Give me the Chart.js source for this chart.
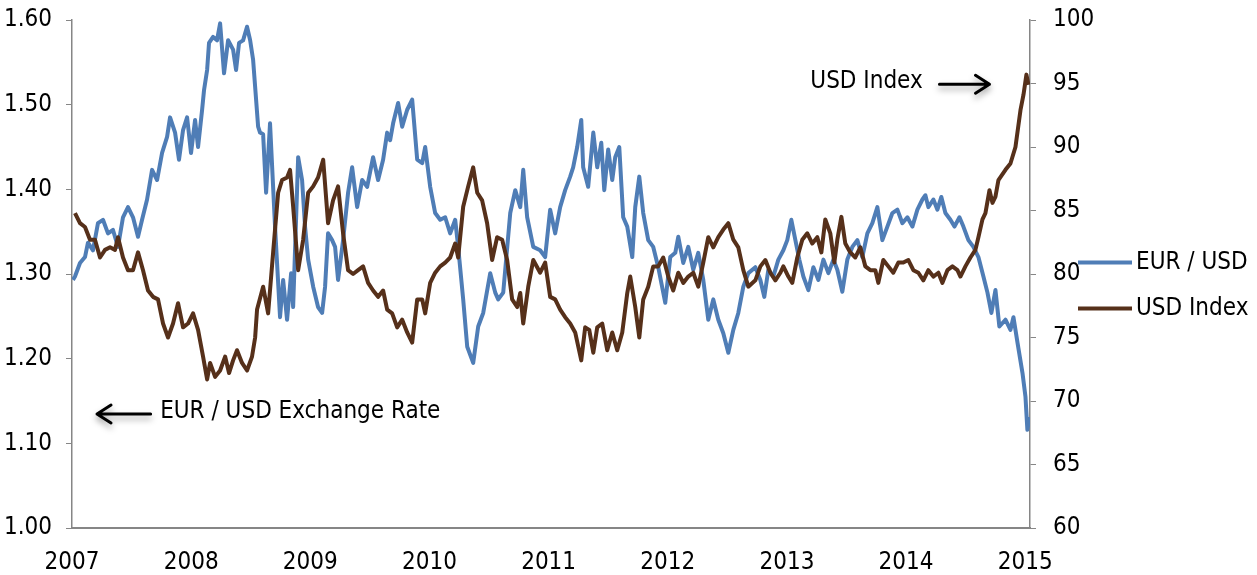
<!DOCTYPE html>
<html>
<head>
<meta charset="utf-8">
<script src="https://cdn.jsdelivr.net/npm/chart.js@4"></script>
<style>
  html, body { margin: 0; padding: 0; background: #fff; }
  #wrap { width: 1257px; height: 575px; }
</style>
</head>
<body>
<div id="wrap"><canvas id="fxChart" width="1257" height="575"></canvas></div>
<script>
// EUR / USD exchange rate (left axis), dates as decimal years
const eurDates = [
  2007.008, 2007.025, 2007.067, 2007.109, 2007.134, 2007.176, 2007.218, 2007.260, 2007.302, 2007.344,
  2007.386, 2007.428, 2007.470, 2007.512, 2007.554, 2007.588, 2007.630, 2007.672, 2007.714, 2007.756,
  2007.798, 2007.823, 2007.865, 2007.898, 2007.932, 2007.966, 2007.999, 2008.033, 2008.058, 2008.092,
  2008.108, 2008.134, 2008.150, 2008.184, 2008.217, 2008.243, 2008.276, 2008.310, 2008.352, 2008.377,
  2008.402, 2008.436, 2008.469, 2008.495, 2008.520, 2008.562, 2008.578, 2008.604, 2008.629, 2008.662,
  2008.704, 2008.746, 2008.772, 2008.805, 2008.839, 2008.856, 2008.898, 2008.931, 2008.956, 2008.982,
  2009.024, 2009.065, 2009.099, 2009.124, 2009.149, 2009.183, 2009.208, 2009.233, 2009.275, 2009.317,
  2009.351, 2009.393, 2009.435, 2009.477, 2009.527, 2009.569, 2009.611, 2009.645, 2009.670, 2009.695,
  2009.737, 2009.771, 2009.813, 2009.855, 2009.897, 2009.939, 2009.964, 2010.006, 2010.048, 2010.090,
  2010.132, 2010.174, 2010.216, 2010.241, 2010.283, 2010.317, 2010.367, 2010.409, 2010.451, 2010.510,
  2010.552, 2010.577, 2010.619, 2010.678, 2010.720, 2010.762, 2010.787, 2010.820, 2010.871, 2010.929,
  2010.971, 2011.013, 2011.055, 2011.097, 2011.139, 2011.181, 2011.206, 2011.240, 2011.274, 2011.290,
  2011.332, 2011.375, 2011.408, 2011.442, 2011.467, 2011.500, 2011.534, 2011.559, 2011.593, 2011.626,
  2011.660, 2011.702, 2011.727, 2011.761, 2011.794, 2011.836, 2011.878, 2011.920, 2011.979, 2012.021,
  2012.063, 2012.088, 2012.130, 2012.172, 2012.214, 2012.256, 2012.298, 2012.340, 2012.382, 2012.424,
  2012.466, 2012.508, 2012.550, 2012.592, 2012.634, 2012.676, 2012.735, 2012.777, 2012.810, 2012.844,
  2012.886, 2012.928, 2012.970, 2013.003, 2013.037, 2013.071, 2013.104, 2013.138, 2013.180, 2013.222,
  2013.264, 2013.306, 2013.348, 2013.390, 2013.423, 2013.465, 2013.507, 2013.549, 2013.591, 2013.633,
  2013.675, 2013.717, 2013.759, 2013.801, 2013.843, 2013.885, 2013.927, 2013.969, 2014.011, 2014.053,
  2014.095, 2014.137, 2014.162, 2014.187, 2014.229, 2014.263, 2014.296, 2014.330, 2014.372, 2014.406,
  2014.448, 2014.481, 2014.523, 2014.565, 2014.607, 2014.649, 2014.683, 2014.716, 2014.750, 2014.783,
  2014.834, 2014.876, 2014.901, 2014.935, 2014.977, 2015.002, 2015.018, 2015.035
];
const eurValues = [
  1.293, 1.297, 1.313, 1.320, 1.337, 1.328, 1.360, 1.364, 1.348, 1.352,
  1.332, 1.367, 1.379, 1.367, 1.344, 1.364, 1.388, 1.423, 1.411, 1.443,
  1.462, 1.485, 1.467, 1.435, 1.470, 1.485, 1.443, 1.482, 1.450, 1.494,
  1.517, 1.541, 1.573, 1.580, 1.576, 1.596, 1.537, 1.576, 1.565, 1.541,
  1.573, 1.576, 1.592, 1.576, 1.553, 1.474, 1.467, 1.465, 1.396, 1.478,
  1.356, 1.249, 1.293, 1.246, 1.301, 1.261, 1.438, 1.411, 1.356, 1.317,
  1.285, 1.261, 1.254, 1.285, 1.348, 1.340, 1.332, 1.293, 1.340, 1.396,
  1.426, 1.379, 1.411, 1.403, 1.438, 1.411, 1.435, 1.467, 1.458, 1.478,
  1.502, 1.474, 1.494, 1.506, 1.435, 1.431, 1.450, 1.403, 1.372, 1.364,
  1.367, 1.348, 1.364, 1.332, 1.270, 1.214, 1.195, 1.238, 1.254, 1.301,
  1.278, 1.270, 1.278, 1.372, 1.399, 1.379, 1.423, 1.367, 1.332, 1.328,
  1.320, 1.376, 1.348, 1.379, 1.399, 1.415, 1.426, 1.450, 1.482, 1.426,
  1.403, 1.467, 1.426, 1.455, 1.399, 1.447, 1.411, 1.438, 1.450, 1.367,
  1.356, 1.320, 1.379, 1.415, 1.372, 1.340, 1.332, 1.308, 1.266, 1.320,
  1.325, 1.344, 1.313, 1.332, 1.305, 1.325, 1.293, 1.246, 1.270, 1.246,
  1.230, 1.207, 1.234, 1.254, 1.285, 1.301, 1.308, 1.293, 1.273, 1.305,
  1.297, 1.317, 1.328, 1.340, 1.364, 1.340, 1.317, 1.297, 1.281, 1.308,
  1.293, 1.317, 1.301, 1.317, 1.305, 1.279, 1.317, 1.332, 1.340, 1.320,
  1.348, 1.360, 1.379, 1.340, 1.356, 1.372, 1.376, 1.360, 1.367, 1.356,
  1.376, 1.388, 1.393, 1.379, 1.388, 1.376, 1.391, 1.372, 1.364, 1.356,
  1.367, 1.356, 1.340, 1.332, 1.320, 1.297, 1.278, 1.254, 1.281, 1.238,
  1.246, 1.234, 1.249, 1.219, 1.183, 1.155, 1.116, 1.131
];

// USD Index (right axis)
const usdDates = [
  2007.025, 2007.067, 2007.109, 2007.151, 2007.193, 2007.235, 2007.277, 2007.319, 2007.361, 2007.386,
  2007.428, 2007.470, 2007.512, 2007.554, 2007.596, 2007.638, 2007.680, 2007.722, 2007.764, 2007.806,
  2007.848, 2007.890, 2007.932, 2007.974, 2008.016, 2008.058, 2008.100, 2008.134, 2008.159, 2008.201,
  2008.243, 2008.285, 2008.318, 2008.352, 2008.385, 2008.427, 2008.469, 2008.511, 2008.537, 2008.553,
  2008.604, 2008.646, 2008.688, 2008.730, 2008.763, 2008.805, 2008.830, 2008.856, 2008.898, 2008.940,
  2008.982, 2009.024, 2009.065, 2009.108, 2009.149, 2009.191, 2009.233, 2009.275, 2009.317, 2009.359,
  2009.401, 2009.443, 2009.485, 2009.527, 2009.569, 2009.611, 2009.645, 2009.687, 2009.729, 2009.771,
  2009.813, 2009.855, 2009.897, 2009.939, 2009.964, 2010.006, 2010.048, 2010.090, 2010.132, 2010.174,
  2010.216, 2010.241, 2010.283, 2010.325, 2010.367, 2010.401, 2010.442, 2010.484, 2010.526, 2010.568,
  2010.610, 2010.652, 2010.694, 2010.736, 2010.762, 2010.787, 2010.829, 2010.871, 2010.929, 2010.971,
  2011.013, 2011.055, 2011.097, 2011.139, 2011.181, 2011.223, 2011.274, 2011.307, 2011.341, 2011.375,
  2011.408, 2011.450, 2011.492, 2011.534, 2011.576, 2011.618, 2011.660, 2011.685, 2011.727, 2011.761,
  2011.794, 2011.836, 2011.878, 2011.920, 2011.962, 2012.004, 2012.046, 2012.088, 2012.130, 2012.172,
  2012.214, 2012.256, 2012.298, 2012.340, 2012.382, 2012.424, 2012.466, 2012.508, 2012.550, 2012.592,
  2012.634, 2012.676, 2012.735, 2012.777, 2012.819, 2012.861, 2012.903, 2012.945, 2012.970, 2013.012,
  2013.045, 2013.087, 2013.129, 2013.171, 2013.213, 2013.255, 2013.289, 2013.322, 2013.364, 2013.398,
  2013.423, 2013.457, 2013.490, 2013.532, 2013.574, 2013.616, 2013.658, 2013.700, 2013.742, 2013.767,
  2013.809, 2013.851, 2013.893, 2013.935, 2013.977, 2014.019, 2014.061, 2014.103, 2014.145, 2014.187,
  2014.229, 2014.271, 2014.305, 2014.347, 2014.389, 2014.431, 2014.456, 2014.498, 2014.540, 2014.582,
  2014.607, 2014.641, 2014.666, 2014.700, 2014.725, 2014.750, 2014.775, 2014.834, 2014.876, 2014.918,
  2014.960, 2014.985, 2015.010, 2015.027
];
const usdValues = [
  84.8, 84.0, 83.7, 82.7, 82.7, 81.3, 81.9, 82.1, 81.9, 82.9,
  81.3, 80.3, 80.3, 81.7, 80.3, 78.7, 78.2, 78.0, 76.1, 75.0,
  76.1, 77.7, 75.8, 76.1, 76.9, 75.6, 73.5, 71.7, 73.0, 71.9,
  72.4, 73.5, 72.2, 73.2, 74.0, 73.0, 72.4, 73.5, 75.0, 77.2,
  79.0, 76.9, 81.7, 86.4, 87.4, 87.6, 88.2, 85.3, 80.3, 82.7,
  86.4, 86.9, 87.6, 89.0, 84.0, 85.8, 86.9, 83.2, 80.3, 80.0,
  80.3, 80.6, 79.3, 78.7, 78.2, 78.7, 77.2, 76.9, 75.8, 76.4,
  75.4, 74.6, 78.0, 78.0, 76.9, 79.3, 80.1, 80.6, 80.9, 81.3,
  82.4, 81.3, 85.3, 86.9, 88.4, 86.4, 85.8, 84.0, 81.1, 82.9,
  82.7, 81.1, 78.0, 77.4, 78.5, 76.1, 79.0, 81.1, 80.1, 80.9,
  78.2, 78.0, 77.2, 76.6, 76.1, 75.4, 73.2, 75.8, 75.6, 73.8,
  75.8, 76.1, 74.0, 75.4, 74.0, 75.4, 78.5, 79.8, 77.4, 75.0,
  78.0, 79.0, 80.6, 80.6, 81.3, 79.8, 78.7, 80.1, 79.3, 79.8,
  80.1, 79.0, 80.9, 82.9, 82.1, 82.9, 83.5, 84.0, 82.7, 82.1,
  80.3, 79.0, 79.5, 80.6, 81.1, 80.1, 79.5, 80.1, 80.6, 79.8,
  79.3, 81.3, 82.7, 83.2, 82.4, 82.9, 81.7, 84.3, 83.2, 80.9,
  82.7, 84.5, 82.4, 81.7, 81.3, 82.1, 80.6, 80.3, 80.3, 79.3,
  81.1, 80.6, 80.1, 80.9, 80.9, 81.1, 80.3, 80.1, 79.5, 80.3,
  79.8, 80.1, 79.3, 80.3, 80.6, 80.3, 79.8, 80.6, 81.3, 81.9,
  82.9, 84.3, 84.8, 86.6, 85.6, 86.1, 87.4, 88.2, 88.7, 90.0,
  92.9, 94.1, 95.7, 94.9
];

const yearTicks = [2007, 2008, 2009, 2010, 2011, 2012, 2013, 2014, 2015];
const eurTicks = [1.00, 1.10, 1.20, 1.30, 1.40, 1.50, 1.60];
const usdTicks = [60, 65, 70, 75, 80, 85, 90, 95, 100];

const FONT = "'Liberation Sans Narrow', 'Arial Narrow', 'DejaVu Sans Condensed', sans-serif";
const AXIS_GREY = '#868686';

// text callouts with arrows
const callouts = [
  { text: 'USD Index', axis: 'yUsd', x: 2014.14, y: 95.1, align: 'right', arrowFrom: 2014.28, arrowTo: 2014.70 },
  { text: 'EUR / USD Exchange Rate', axis: 'yEur', x: 2007.74, y: 1.137, align: 'left', arrowFrom: 2007.66, arrowTo: 2007.21 }
];

const calloutPlugin = {
  id: 'callouts',
  afterDraw(chart) {
    const ctx = chart.ctx;
    const xs = chart.scales.x;
    ctx.save();
    callouts.forEach(c => {
      const ys = chart.scales[c.axis];
      const py = ys.getPixelForValue(c.y);
      ctx.font = '24px ' + FONT;
      ctx.fillStyle = '#000';
      ctx.textBaseline = 'middle';
      ctx.textAlign = c.align;
      ctx.fillText(c.text, xs.getPixelForValue(c.x), py);

      const x1 = xs.getPixelForValue(c.arrowFrom);
      const x2 = xs.getPixelForValue(c.arrowTo);
      const dir = x2 > x1 ? 1 : -1;
      const ay = py + 2;
      ctx.shadowColor = 'rgba(0,0,0,0.35)';
      ctx.shadowBlur = 6;
      ctx.shadowOffsetY = 4;
      ctx.strokeStyle = '#000';
      ctx.lineWidth = 3;
      ctx.lineCap = 'round';
      ctx.lineJoin = 'round';
      ctx.beginPath();
      ctx.moveTo(x1, ay);
      ctx.lineTo(x2, ay);
      ctx.moveTo(x2 - dir * 14, ay - 9);
      ctx.lineTo(x2, ay);
      ctx.lineTo(x2 - dir * 14, ay + 9);
      ctx.stroke();
      ctx.shadowColor = 'transparent';
    });

    // legend drawn to the right of the right axis
    const lx = chart.chartArea.right + 48;
    chart.data.datasets.forEach((ds, i) => {
      const ly = chart.scales.yUsd.getPixelForValue(80.9) + i * 46;
      ctx.strokeStyle = ds.borderColor;
      ctx.lineWidth = 4;
      ctx.lineCap = 'butt';
      ctx.beginPath();
      ctx.moveTo(lx, ly);
      ctx.lineTo(lx + 54, ly);
      ctx.stroke();
      ctx.fillStyle = '#000';
      ctx.font = '24px ' + FONT;
      ctx.textAlign = 'left';
      ctx.textBaseline = 'middle';
      ctx.fillText(ds.label, lx + 58, ly);
    });
    ctx.restore();
  }
};

const toPoints = (xs, ys) => xs.map((x, i) => ({ x: x, y: ys[i] }));

// fixed axis sizes so the plot area lands where the original has it
const fixWidth = w => scale => { scale.width = w; scale.paddingTop = 0; scale.paddingBottom = 0; };

const config = {
  type: 'line',
  data: {
    datasets: [{
      label: 'EUR / USD',
      data: toPoints(eurDates, eurValues),
      yAxisID: 'yEur',
      order: 1,
      borderColor: '#4F7DB6',
      borderWidth: 4,
      pointRadius: 0,
      tension: 0,
      borderJoinStyle: 'round'
    }, {
      label: 'USD Index',
      data: toPoints(usdDates, usdValues),
      yAxisID: 'yUsd',
      order: 0,
      borderColor: '#56301A',
      borderWidth: 4,
      pointRadius: 0,
      tension: 0,
      borderJoinStyle: 'round'
    }]
  },
  options: {
    responsive: false,
    animation: false,
    layout: { padding: { top: 20, right: 157, left: 0, bottom: 0 } },
    plugins: {
      legend: { display: false },
      tooltip: { enabled: false }
    },
    scales: {
      x: {
        type: 'linear',
        min: 2007,
        max: 2015.04,
        afterBuildTicks: scale => { scale.ticks = yearTicks.map(v => ({ value: v })); },
        afterFit: scale => { scale.height = 47; scale.paddingLeft = 0; scale.paddingRight = 0; },
        grid: { display: true, drawOnChartArea: false, drawTicks: false },
        border: { color: AXIS_GREY, width: 2 },
        ticks: {
          padding: 20,
          color: '#000',
          font: { family: FONT, size: 24 },
          maxRotation: 0,
          autoSkip: false,
          callback: v => String(v)
        }
      },
      yEur: {
        position: 'left',
        min: 1.0,
        max: 1.6,
        afterBuildTicks: scale => { scale.ticks = eurTicks.map(v => ({ value: v })); },
        afterFit: fixWidth(72),
        grid: { drawOnChartArea: false, tickLength: 6, color: AXIS_GREY },
        border: { color: AXIS_GREY, width: 1.5 },
        ticks: {
          padding: 14,
          color: '#000',
          font: { family: FONT, size: 24 },
          callback: v => v.toFixed(2)
        }
      },
      yUsd: {
        position: 'right',
        min: 60,
        max: 100,
        afterBuildTicks: scale => { scale.ticks = usdTicks.map(v => ({ value: v })); },
        afterFit: fixWidth(70),
        grid: { drawOnChartArea: false, tickLength: 6, color: AXIS_GREY },
        border: { color: AXIS_GREY, width: 1.5 },
        ticks: {
          padding: 17,
          color: '#000',
          font: { family: FONT, size: 24 },
          callback: v => String(v)
        }
      }
    }
  },
  plugins: [calloutPlugin]
};

new Chart(document.getElementById('fxChart'), config);
</script>
</body>
</html>
